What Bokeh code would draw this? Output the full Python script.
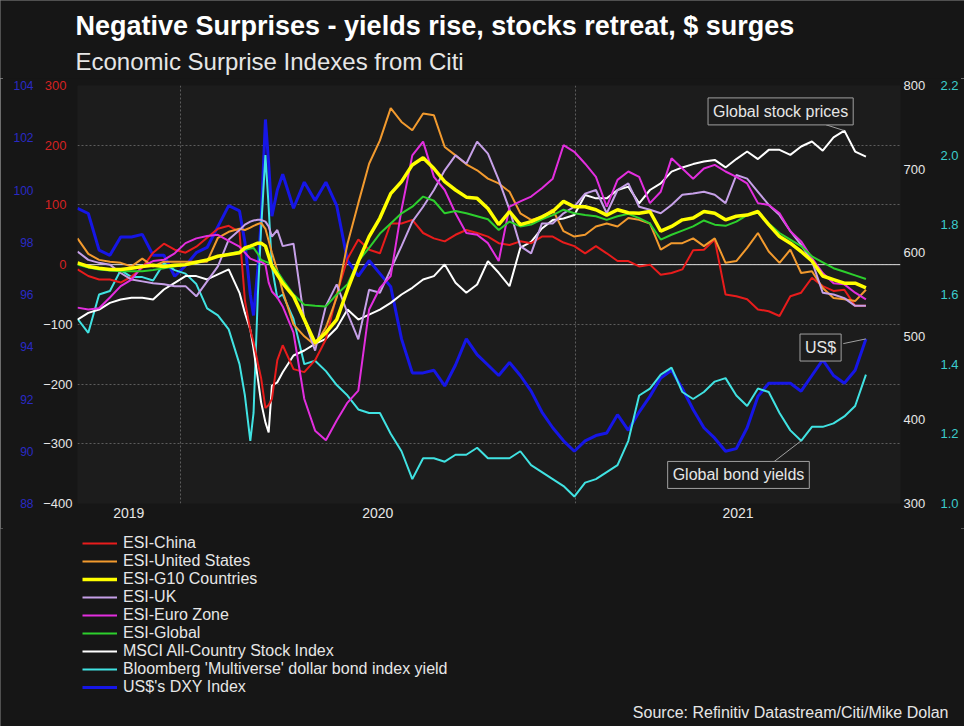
import numpy as np
import pandas as pd
from bokeh.plotting import figure
from bokeh.layouts import column
from bokeh.models import (Range1d, LinearAxis, FixedTicker, NumeralTickFormatter,
                          DatetimeTickFormatter, Span, Label, Legend, LegendItem,
                          ColumnDataSource)
from bokeh.embed import file_html
from bokeh.resources import INLINE

# ---------------- data ----------------
START = pd.Timestamp("2019-09-28")
day_offsets = [
    0, 10, 20, 30, 40, 50, 60, 70, 80, 90, 100, 110, 120, 130, 140, 150,
    155, 160, 163, 167, 170, 174, 177, 180, 185, 190,
    200, 210, 220, 230, 240, 250,
    260, 270, 280, 290, 300, 310, 320, 330, 340, 350, 360, 370, 380, 390,
    400, 410, 420, 430, 440, 450, 460, 470, 480, 490, 500, 510,
    520, 530, 540, 550, 560, 570, 580, 590, 600, 610, 620, 630, 640, 650,
    660, 670, 680, 690, 700, 710, 720, 730,
]

esi_china = [
    -8, -19, -25, -25, -30, -20, -5, 20, 35, 25, 20, 30, 45, 60, 65, 55,
    -60, -110, -130, -165, -190, -240, -235, -225, -160, -135,
    -175, -180, -160, -125, -50, 10,
    42, 25, 19, 69, 69, 75, 53, 44, 39, 50, 58, 53, 47, 36, 33, 39, 36, 47, 47, 37, 31, 19, 31, 19, 6, 6,
    -3, 0, -17, -14, -8, 24, 25, 42, -50, -53, -58, -75, -78, -86, -53, -47, -22, -36, -44, -42, -69, -69,
]
esi_us = [
    44, 18, 8, 5, 3, -3, 10, -3, 5, 5, 5, 5, 5, 45, 55, 60,
    58, 62, 65, 68, 70, 60, 40, 20, -10, -45,
    -100, -120, -135, -105, -55, 35,
    103, 169, 208, 262, 239, 225, 253, 250, 197, 183, 168, 158, 144, 136, 122, 86, 75, 80, 92, 56, 47, 50, 64, 69, 64, 78,
    75, 69, 25, 36, 36, 44, 31, 44, 3, 6, 28, 53, 22, 3, 25, -14, -11, -39, -56, -58, -61, -42,
]
esi_g10 = [
    3, -3, -6, -8, -8, -6, -3, -1, -3, -1, 0, 4, 8, 14, 17, 20,
    28, 31, 33, 36, 36, 31, 14, -3, -17, -31,
    -53, -92, -131, -114, -92, -42,
    5, 47, 78, 119, 139, 167, 179, 161, 139, 125, 113, 111, 94, 67, 89, 67, 72, 80, 89, 106, 97, 97, 92, 83, 92, 87,
    86, 89, 56, 64, 75, 78, 89, 86, 75, 81, 83, 89, 67, 47, 36, 22, 6, -19, -25, -31, -31, -39,
]
esi_uk = [
    22, 8, 3, 0, -14, -25, -28, -31, -33, -36, -36, -53, -28, -3, 42, 58,
    67, 72, 74, 75, 75, 72, 64, 47, 58, 31,
    35, -92, -144, -69, -33, -81,
    -125, -42, -47, -8, 31, 72, 97, 125, 158, 183, 169, 206, 186, 142, 92, 31, 19, 69, 69, 86, 97, 119, 125, 86, 125, 136,
    97, 92, 86, 100, 117, 119, 122, 117, 103, 150, 144, 122, 100, 83, 56, 33, 6, -47, -50, -56, -69, -69,
]
esi_euro = [
    -72, -75, -73, -55, -36, -25, -3, 6, 8, 19, 36, 44, 48, 50, 40, 30,
    20, 10, 8, 5, 5, 0, -30, -45, -55, -70,
    -114, -225, -278, -294, -261, -231,
    -211, -75, -39, -19, 92, 183, 206, 147, 125, 86, 53, 50, 36, 6, 97, 106, 114, 128, 144, 200, 189, 169, 147, 97, 142, 156,
    147, 103, 122, 178, 161, 144, 161, 167, 156, 147, 136, 103, 100, 86, 56, 39, 11, -14, -31, -33, -47, -58,
]
esi_global = [
    0, -5, -8, -10, -11, -11, -11, -9, -6, -3, 0, 3, 8, 14, 18, 22,
    25, 27, 28, 18, 8, 5, 3, 0, -11, -25,
    -50, -67, -69, -70, -50, -33,
    6, 28, 52, 69, 86, 97, 114, 107, 86, 90, 86, 81, 76, 58, 72, 64, 67, 76, 83, 92, 86, 83, 81, 75, 81, 85,
    78, 69, 42, 50, 57, 64, 74, 67, 65, 72, 83, 87, 69, 53, 42, 31, 14, 4, -6, -12, -18, -24,
]
msci_acwi = [
    520, 528, 532, 540, 544, 546, 546, 544, 556, 564, 572, 572, 568, 574, 580, 552,
    528, 508, 485, 449, 421, 397, 385, 441, 445, 457,
    477, 483, 491, 497, 510, 532,
    520, 526, 532, 540, 550, 558, 568, 572, 586, 564, 552, 562, 590, 576, 560, 606, 613, 629, 639, 641, 645, 669, 665, 665, 675, 679,
    659, 675, 683, 697, 702, 706, 709, 711, 702, 712, 721, 712, 723, 723, 717, 727, 733, 722, 738, 746, 721, 715,
]
bond_yield = [
    1.53, 1.49, 1.60, 1.61, 1.67, 1.65, 1.65, 1.64, 1.69, 1.67, 1.66, 1.63, 1.56, 1.54, 1.50, 1.40,
    1.31, 1.18, 1.26, 1.60, 1.79, 2.00, 1.85, 1.68, 1.59, 1.60,
    1.53, 1.40, 1.41, 1.38, 1.34, 1.31,
    1.27, 1.26, 1.26, 1.20, 1.15, 1.07, 1.13, 1.13, 1.12, 1.14, 1.14, 1.16, 1.13, 1.13, 1.13, 1.15, 1.11, 1.09, 1.07, 1.05, 1.02, 1.06, 1.07, 1.09, 1.11, 1.18,
    1.31, 1.33, 1.37, 1.39, 1.32, 1.30, 1.32, 1.35, 1.36, 1.31, 1.28, 1.33, 1.32, 1.26, 1.21, 1.18, 1.22, 1.22, 1.23, 1.25, 1.28, 1.37,
]
dxy = [
    99.3, 99.1, 97.7, 97.5, 98.2, 98.2, 98.3, 97.5, 97.5, 96.7, 97.1, 97.6, 97.8, 98.6, 99.4, 99.2,
    98.0, 96.0, 95.2, 97.0, 98.8, 102.7, 101.0, 99.0, 100.0, 100.6,
    99.3, 100.3, 99.6, 100.3, 99.4, 97.3,
    96.7, 97.3, 96.8, 96.3, 94.3, 93.0, 93.0, 93.1, 92.5, 93.3, 94.3, 93.7, 93.3, 92.9, 93.4, 92.9, 92.3, 91.5, 90.9, 90.4, 90.0, 90.4, 90.6, 90.7, 91.4, 90.8,
    91.5, 92.1, 92.8, 93.1, 92.4, 91.6, 90.9, 90.5, 90.0, 90.1, 90.9, 92.1, 92.6, 92.6, 92.6, 92.3, 92.9, 93.5, 92.9, 92.6, 93.1, 94.3,
]

esi_ticks = [-400, -300, -200, -100, 0, 100, 200, 300]
dxy_ticks = [88, 90, 92, 94, 96, 98, 100, 102, 104]
msci_ticks = [300, 400, 500, 600, 700, 800]
yield_ticks = [1.0, 1.2, 1.4, 1.6, 1.8, 2.0, 2.2]

TITLE = "Negative Surprises - yields rise, stocks retreat, $ surges"
SUBTITLE = "Economic Surprise Indexes from Citi"
SOURCE = "Source: Refinitiv Datastream/Citi/Mike Dolan"

# ---------------- style ----------------
FONT = "Liberation Sans"
PAGE_BG = "#161616"
PLOT_BG = "#1c1c1c"
GRID = "#5c5c5c"
TEXT = "#e6e6e6"
LEADER = "#a0a0a0"

# (legend label, column, y-range, colour, width) in legend order
SERIES = [
    ("ESI-China", "china", "default", "#e81c1c", 2),
    ("ESI-United States", "us", "default", "#f29a2e", 2),
    ("ESI-G10 Countries", "g10", "default", "#ffff00", 3.5),
    ("ESI-UK", "uk", "default", "#c6a0e8", 2),
    ("ESI-Euro Zone", "euro", "default", "#e22ede", 2),
    ("ESI-Global", "glob", "default", "#2dcf2d", 2),
    ("MSCI All-Country Stock Index", "msci", "msci", "#ffffff", 2),
    ("Bloomberg 'Multiverse' dollar bond index yield", "yld", "yld", "#40e2e2", 2),
    ("US$'s DXY Index", "dxy", "dxy", "#1616e6", 3),
]
DRAW_ORDER = ["dxy", "yld", "msci", "china", "us", "uk", "euro", "glob", "g10"]

W = 964
H_TOP, H_MAIN, H_LEG = 78, 450, 198
BORDER_L, BORDER_R, BORDER_T, BORDER_B = 77, 64, 7, 25


def strip(height):
    """A plain, axis-less strip whose frame is the whole canvas."""
    f = figure(width=W, height=height, x_range=Range1d(0, 1), y_range=Range1d(0, 1),
               x_axis_type=None, y_axis_type=None, output_backend="svg",
               toolbar_location=None, min_border=0,
               background_fill_color=PAGE_BG, border_fill_color=None,
               outline_line_color=None)
    if hasattr(f, "frame_align"):
        f.frame_align = False
    return f


# ---------------- title strip ----------------
t = strip(H_TOP)
t.add_layout(Label(x=75, y=H_TOP - 25, x_units="screen", y_units="screen",
                   text=TITLE, text_align="left", text_baseline="middle",
                   text_font=FONT, text_font_size="27px", text_font_style="bold",
                   text_color="#ffffff"))
t.add_layout(Label(x=75, y=H_TOP - 61, x_units="screen", y_units="screen",
                   text=SUBTITLE, text_align="left", text_baseline="middle",
                   text_font=FONT, text_font_size="24px", text_color=TEXT))

# ---------------- main chart ----------------
dates = START + pd.to_timedelta(day_offsets, unit="D")
src = ColumnDataSource(data=dict(
    date=dates, china=esi_china, us=esi_us, g10=esi_g10, uk=esi_uk, euro=esi_euro,
    glob=esi_global, msci=msci_acwi, yld=bond_yield, dxy=dxy))

X_START = pd.Timestamp("2019-09-28")
X_END = pd.Timestamp("2021-10-29")
YEAR_STARTS = [pd.Timestamp("2020-01-01"), pd.Timestamp("2021-01-01")]


def ms(ts):
    return float((ts - pd.Timestamp("1970-01-01")) // pd.Timedelta(milliseconds=1))


p = figure(width=W, height=H_MAIN, x_axis_type="datetime",
           x_range=Range1d(X_START, X_END), y_range=Range1d(-400, 300),
           output_backend="svg", toolbar_location=None,
           min_border_left=BORDER_L, min_border_right=BORDER_R,
           min_border_top=BORDER_T, min_border_bottom=BORDER_B,
           background_fill_color=PLOT_BG, border_fill_color=PAGE_BG,
           outline_line_color=None)
p.extra_y_ranges = {"dxy": Range1d(88, 104), "msci": Range1d(300, 800),
                    "yld": Range1d(1.0, 2.2)}


def style_axis(ax, color, size, standoff):
    ax.axis_line_color = None
    ax.major_tick_line_color = None
    ax.minor_tick_line_color = None
    ax.major_tick_in = 0
    ax.major_tick_out = 0
    ax.minor_tick_in = 0
    ax.minor_tick_out = 0
    ax.major_label_text_color = color
    ax.major_label_text_font = FONT
    ax.major_label_text_font_size = size
    ax.major_label_standoff = standoff


# ESI axis: negative ticks (white) next to the frame ...
esi_neg = p.yaxis[0]
esi_neg.ticker = FixedTicker(ticks=[v for v in esi_ticks if v < 0])
style_axis(esi_neg, TEXT, "13px", 5)
# ... positive ticks (red), pulled back into the same column
esi_pos = LinearAxis(ticker=FixedTicker(ticks=[v for v in esi_ticks if v >= 0]))
style_axis(esi_pos, "#d42222", "13px", -26)
p.add_layout(esi_pos, "left")

dxy_ax = LinearAxis(y_range_name="dxy", ticker=FixedTicker(ticks=dxy_ticks))
style_axis(dxy_ax, "#2a2ac4", "12px", 7)
p.add_layout(dxy_ax, "left")

msci_ax = LinearAxis(y_range_name="msci", ticker=FixedTicker(ticks=msci_ticks))
style_axis(msci_ax, TEXT, "13px", 3)
p.add_layout(msci_ax, "right")

yld_ax = LinearAxis(y_range_name="yld", ticker=FixedTicker(ticks=yield_ticks),
                    formatter=NumeralTickFormatter(format="0.0"))
style_axis(yld_ax, "#3ccccc", "13px", 12)
p.add_layout(yld_ax, "right")

# x axis: year names centred in each visible year span
x_ax = p.xaxis[0]
bounds = [X_START] + YEAR_STARTS + [X_END]
label_ticks = [ms(bounds[i] + (bounds[i + 1] - bounds[i]) / 2) for i in range(len(bounds) - 1)]
x_ax.ticker = FixedTicker(ticks=label_ticks)
x_ax.formatter = DatetimeTickFormatter(days="%Y", months="%Y", years="%Y")
style_axis(x_ax, TEXT, "14px", 4)

# grids
p.xgrid.ticker = FixedTicker(ticks=[ms(v) for v in YEAR_STARTS])
p.ygrid.ticker = FixedTicker(ticks=esi_ticks)
for g in (p.xgrid[0], p.ygrid[0]):
    g.grid_line_color = GRID
    g.grid_line_dash = "2 2"
    g.grid_line_width = 1

p.add_layout(Span(location=0, dimension="width", line_color="#dddddd",
                  line_width=1, level="underlay"))

# lines
spec = {s[1]: s for s in SERIES}
for col in DRAW_ORDER:
    _, c, rng, color, lw = spec[col]
    p.line("date", c, source=src, y_range_name=rng, line_color=color, line_width=lw)


# call-out boxes with leader lines
def callout(text, cx, cy, rng):
    p.add_layout(Label(x=ms(cx), y=cy, y_range_name=rng, text=text,
                       text_align="center", text_baseline="middle",
                       text_color=TEXT, text_font=FONT, text_font_size="16px",
                       background_fill_color=PLOT_BG, border_line_color=LEADER,
                       border_line_width=1, padding=5))


i_peak = int(np.argmax(msci_acwi))
p.segment(x0=[START + pd.Timedelta(days=693)], y0=[753],
          x1=[dates[i_peak]], y1=[msci_acwi[i_peak]],
          y_range_name="msci", line_color=LEADER, line_width=1)
callout("Global stock prices", START + pd.Timedelta(days=651), 769, "msci")

p.segment(x0=[START + pd.Timedelta(days=709)], y0=[94.12],
          x1=[dates[-1]], y1=[dxy[-1]],
          y_range_name="dxy", line_color=LEADER, line_width=1)
callout("US$", START + pd.Timedelta(days=688), 93.97, "dxy")

late = [i for i, d in enumerate(day_offsets) if d > 600]
i_low = min(late, key=lambda i: bond_yield[i])
p.segment(x0=[START + pd.Timedelta(days=644)], y0=[1.118],
          x1=[dates[i_low]], y1=[bond_yield[i_low]],
          y_range_name="yld", line_color=LEADER, line_width=1)
callout("Global bond yields", START + pd.Timedelta(days=612), 1.082, "yld")

# ---------------- legend + source strip ----------------
q = strip(H_LEG)
items = []
for label, c, rng, color, lw in SERIES:
    # legend swatch only: a single NaN point, never drawn in the strip
    r = q.line(x=[np.nan], y=[np.nan], line_color=color, line_width=lw)
    items.append(LegendItem(label=label, renderers=[r]))
q.add_layout(Legend(items=items, location=(77, 25), orientation="vertical",
                    label_text_font=FONT, label_text_font_size="16px", label_text_color=TEXT,
                    glyph_width=35, glyph_height=18, label_height=18, spacing=0,
                    padding=5, margin=0, label_standoff=6,
                    background_fill_alpha=0, border_line_alpha=0))
q.add_layout(Label(x=948, y=14, x_units="screen", y_units="screen",
                   text=SOURCE, text_align="right", text_baseline="middle",
                   text_font=FONT, text_font_size="16px", text_color=TEXT))

page = column(t, p, q, spacing=0,
              styles={"background-color": PAGE_BG,
                      "outline": "3px solid #8a8a8a", "outline-offset": "-3px"})
open("out.html", "w").write(file_html(page, INLINE))
